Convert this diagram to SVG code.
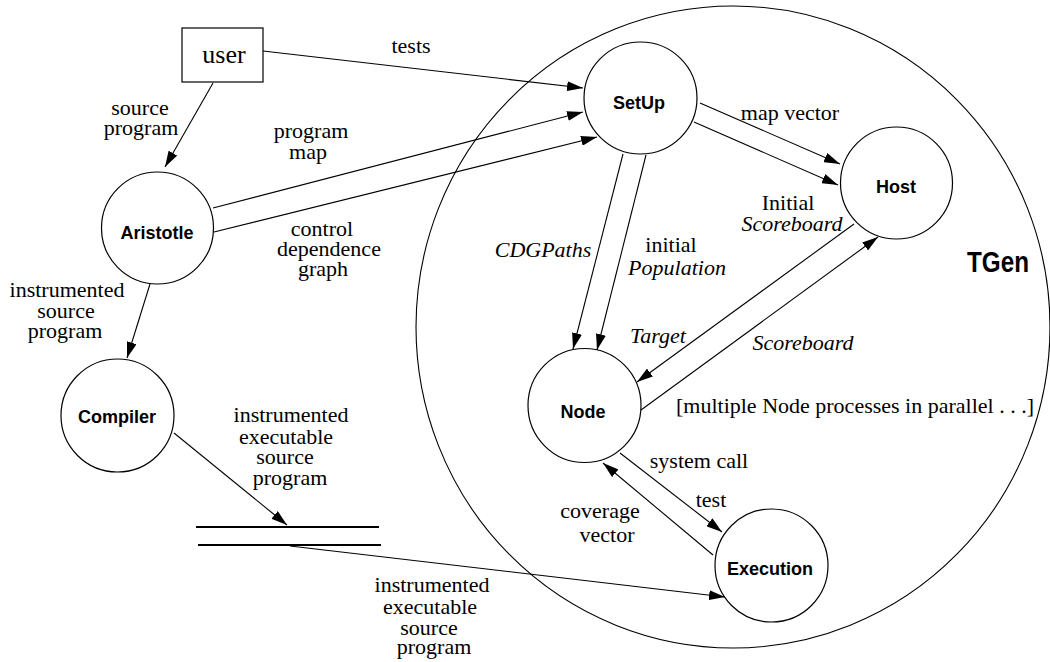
<svg xmlns="http://www.w3.org/2000/svg" width="1050" height="662" viewBox="0 0 1050 662">
<defs>
<marker id="ah" markerUnits="userSpaceOnUse" markerWidth="16" markerHeight="10" refX="16" refY="5" orient="auto">
<path d="M0,0 L16,5 L0,10 z" fill="#000"/>
</marker>
<style>
.nd{fill:#fff;stroke:#000;stroke-width:1.2}
.nl{font-family:"Liberation Sans",Arial,sans-serif;font-weight:bold;font-size:18px;text-anchor:middle}
.lb{font-family:"Liberation Serif","Times New Roman",serif;font-size:22px;text-anchor:middle}
.it{font-style:italic}
.cn{stroke:#000;stroke-width:1.1;fill:none;marker-end:url(#ah)}
.st{stroke:#000;stroke-width:2.2}
</style>
</defs>
<rect width="1050" height="662" fill="#fff"/>
<g id="tgen">
<ellipse cx="733" cy="327" rx="317" ry="321" fill="none" stroke="#000" stroke-width="1.1"/>
<text x="998" y="272" font-family="'Liberation Sans',Arial,sans-serif" font-weight="bold" font-size="29" text-anchor="middle" textLength="62" lengthAdjust="spacingAndGlyphs">TGen</text>
</g>
<g id="connectors">
<line class="cn" x1="263" y1="51" x2="583" y2="88"/>
<line class="cn" x1="213" y1="83" x2="165" y2="167"/>
<line class="cn" x1="213" y1="208" x2="583" y2="112"/>
<line class="cn" x1="214" y1="232" x2="597" y2="137"/>
<line class="cn" x1="150" y1="284" x2="127" y2="358"/>
<line class="cn" x1="174" y1="433" x2="287" y2="525"/>
<line class="cn" x1="290" y1="546" x2="725" y2="597"/>
<line class="cn" x1="700" y1="103" x2="840" y2="164"/>
<line class="cn" x1="694" y1="122" x2="838" y2="185"/>
<line class="cn" x1="854" y1="224" x2="637" y2="382"/>
<line class="cn" x1="641" y1="410" x2="878" y2="237"/>
<line class="cn" x1="623" y1="154" x2="573" y2="349"/>
<line class="cn" x1="646" y1="155" x2="597" y2="350"/>
<line class="cn" x1="620" y1="453" x2="722" y2="532"/>
<line class="cn" x1="713" y1="555" x2="603" y2="463"/>
</g>
<g id="labels">
<text class="lb" x="411" y="53">tests</text>
<text class="lb" x="140" y="115">source</text>
<text class="lb" x="141" y="135">program</text>
<text class="lb" x="311" y="138">program</text>
<text class="lb" x="308" y="159">map</text>
<text class="lb" x="322" y="236">control</text>
<text class="lb" x="329" y="256">dependence</text>
<text class="lb" x="323" y="276">graph</text>
<text class="lb" x="67" y="297">instrumented</text>
<text class="lb" x="66" y="318">source</text>
<text class="lb" x="65" y="338">program</text>
<text class="lb" x="291" y="422">instrumented</text>
<text class="lb" x="286" y="444">executable</text>
<text class="lb" x="285" y="464">source</text>
<text class="lb" x="290" y="485">program</text>
<text class="lb" x="432" y="592">instrumented</text>
<text class="lb" x="430" y="614">executable</text>
<text class="lb" x="429" y="635">source</text>
<text class="lb" x="434" y="654">program</text>
<text class="lb" x="790" y="120">map vector</text>
<text class="lb" x="788" y="210">Initial</text>
<text class="lb it" x="792" y="231">Scoreboard</text>
<text class="lb it" x="658" y="343">Target</text>
<text class="lb it" x="803" y="350">Scoreboard</text>
<text class="lb it" x="543" y="257">CDGPaths</text>
<text class="lb" x="671" y="252">initial</text>
<text class="lb it" x="677" y="275">Population</text>
<text class="lb" x="699" y="468">system call</text>
<text class="lb" x="711" y="507">test</text>
<text class="lb" x="600" y="518">coverage</text>
<text class="lb" x="607" y="542">vector</text>
<text class="lb" x="855" y="413">[multiple Node processes in parallel . . .]</text>
</g>
<g id="user">
<rect class="nd" x="182" y="28" width="81" height="54"/>
<text x="224" y="63" font-family="'Liberation Serif','Times New Roman',serif" font-size="26" text-anchor="middle">user</text>
</g>
<g id="aristotle">
<circle class="nd" cx="157.5" cy="228" r="56"/>
<text class="nl" x="157" y="239">Aristotle</text>
</g>
<g id="compiler">
<circle class="nd" cx="117.5" cy="415.5" r="56.5"/>
<text class="nl" x="117" y="423">Compiler</text>
</g>
<g id="store">
<line class="st" x1="196" y1="527" x2="379" y2="527"/>
<line class="st" x1="198" y1="545" x2="381" y2="545"/>
</g>
<g id="setup">
<ellipse class="nd" cx="640.5" cy="98" rx="56.5" ry="56"/>
<text class="nl" x="639" y="109">SetUp</text>
</g>
<g id="host">
<circle class="nd" cx="896.5" cy="183" r="56"/>
<text class="nl" x="896" y="193">Host</text>
</g>
<g id="node">
<ellipse class="nd" cx="584.5" cy="405.5" rx="56.5" ry="57"/>
<text class="nl" x="583" y="418">Node</text>
</g>
<g id="execution">
<circle class="nd" cx="771.5" cy="565.5" r="56.5"/>
<text class="nl" x="770" y="575">Execution</text>
</g>
</svg>
